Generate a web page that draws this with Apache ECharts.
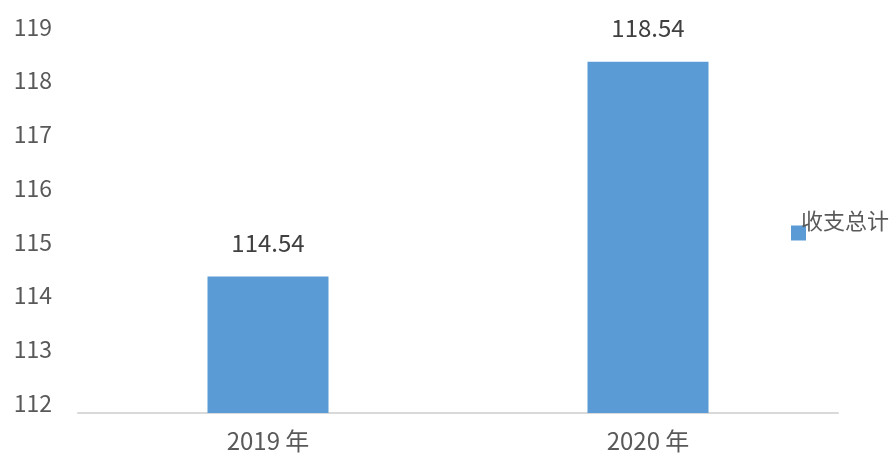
<!DOCTYPE html>
<html>
<head>
<meta charset="utf-8">
<script src="https://cdn.jsdelivr.net/npm/echarts@6/dist/echarts.min.js"></script>
<style>
  html, body { margin: 0; padding: 0; background: #fff; }
  #chart { width: 893px; height: 456px; }
</style>
</head>
<body>
<div id="chart"></div>
<script>
// 数据
const categories = ['2019 年', '2020 年']
const totals = [114.54, 118.54]
const seriesName = '收支总计'
const yMin = 112
const yMax = 119

const FONT = '"Noto Sans CJK SC", "Noto Sans", sans-serif'

let myChart = echarts.init(document.getElementById('chart'))
let option = {
    animation: false,
    backgroundColor: '#fff',
    grid: { left: 78, right: 55, top: 37, bottom: 43 },
    legend: {
        data: [seriesName],
        orient: 'vertical',
        left: 786,
        top: 205,
        icon: 'rect',
        itemWidth: 15,
        itemHeight: 15,
        formatter: '{a|{name}}',
        textStyle: {
            rich: {
                a: {
                    fontFamily: FONT,
                    fontSize: 22,
                    color: '#595959',
                    padding: [0, 0, 24, -10]
                }
            }
        }
    },
    xAxis: {
        type: 'category',
        data: categories,
        axisLine: { lineStyle: { color: '#d9d9d9', width: 2 } },
        axisTick: { show: false },
        axisLabel: {
            fontFamily: FONT,
            fontSize: 24,
            color: '#595959',
            margin: 16
        }
    },
    yAxis: {
        type: 'value',
        min: yMin,
        max: yMax,
        interval: 1,
        axisLine: { show: false },
        axisTick: { show: false },
        splitLine: { show: false },
        axisLabel: {
            fontFamily: FONT,
            fontSize: 23,
            color: '#595959',
            margin: 26,
            verticalAlign: 'bottom',
            lineHeight: 20
        }
    },
    series: [{
        name: seriesName,
        type: 'bar',
        data: totals,
        barWidth: 121,
        itemStyle: { color: '#5b9bd5' },
        label: {
            show: true,
            position: 'top',
            distance: 22,
            fontFamily: FONT,
            fontSize: 24,
            color: '#404040',
            formatter: p => p.value.toFixed(2)
        }
    }]
}
myChart.setOption(option)
</script>
</body>
</html>
